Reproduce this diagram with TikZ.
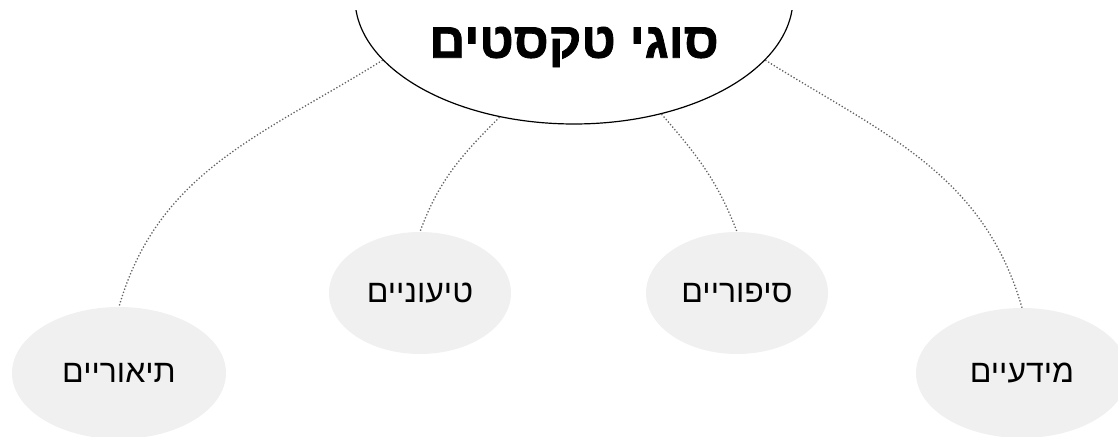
\documentclass[tikz,border=0pt]{standalone}
\usepackage{fontspec}
\newfontfamily\hebfont[Script=Hebrew]{Liberation Sans}
\newfontfamily\titlefont[Script=Hebrew,BoldFeatures={FakeBold=1.5}]{Liberation Sans}
\TeXXeTstate=1
\usetikzlibrary{shapes.geometric}
\definecolor{kindgray}{HTML}{F0F0F0}
\definecolor{dotgray}{HTML}{626262}

\begin{document}
\begin{tikzpicture}[x=1pt,y=1pt,
        topic/.style={shape=ellipse,draw=black,line width=1.2pt,inner sep=0pt,minimum width=438pt,minimum height=252pt},
        kind/.style={shape=ellipse,fill=kindgray,inner sep=0pt,font=\hebfont\fontsize{32}{36}\selectfont},
        link/.style={draw=dotgray,line width=1.3pt,dash pattern=on 1.3pt off 2pt}]
                \useasboundingbox (0,0) rectangle (1118,436);
                \begin{scope}
                \clip (0,0) rectangle (1118,425);
                \node[topic] (topic) at (574,438) {};
                \end{scope}
                \node[font=\titlefont\bfseries\fontsize{50}{56}\selectfont] (title) at (574,389) {\beginR סוגי טקסטים\endR};
                \node[kind,minimum width=214pt,minimum height=132pt] (theory) at (119,63) {\beginR תיאוריים\endR};
                \node[kind,minimum width=182pt,minimum height=122pt] (argument) at (420,143) {\beginR טיעוניים\endR};
                \node[kind,minimum width=182pt,minimum height=122pt] (narrative) at (737,143) {\beginR סיפוריים\endR};
                \node[kind,minimum width=212pt,minimum height=130pt] (info) at (1022,63) {\beginR מידעיים\endR};
                \draw[link] (topic.198) to[out=212,in=74] (theory.north);
                \draw[link] (topic.238) to[out=225,in=70] (argument.north);
                \draw[link] (topic.307) to[out=311,in=111] (narrative.north);
                \draw[link] (topic.342) to[out=328,in=106] (info.north);
            \end{tikzpicture}
\end{document}
